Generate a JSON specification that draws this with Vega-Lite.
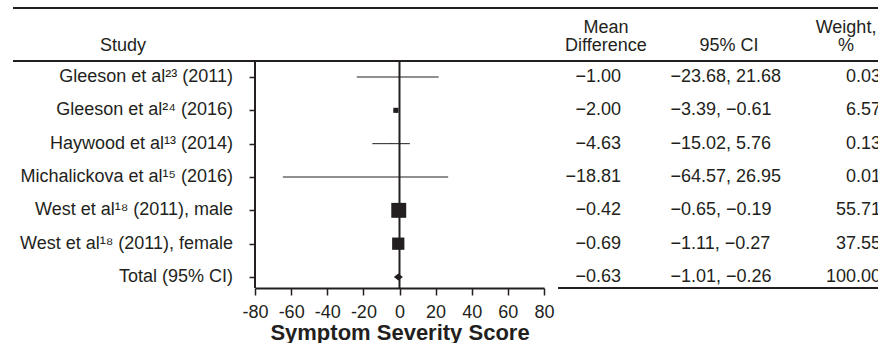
{
  "$schema": "https://vega.github.io/schema/vega-lite/v6.json",
  "padding": {"left": 12, "top": 7, "right": 0, "bottom": 0},
  "background": "white",
  "spacing": 0,
  "bounds": "flush",
  "datasets": {
    "rows": [
      {"row": 1, "study": "Gleeson et al²³ (2011)", "md": -1.00, "lo": -23.68, "hi": 21.68, "ci": "−23.68, 21.68", "w": 0.03, "kind": "study"},
      {"row": 2, "study": "Gleeson et al²⁴ (2016)", "md": -2.00, "lo": -3.39, "hi": -0.61, "ci": "−3.39, −0.61", "w": 6.57, "kind": "study"},
      {"row": 3, "study": "Haywood et al¹³ (2014)", "md": -4.63, "lo": -15.02, "hi": 5.76, "ci": "−15.02, 5.76", "w": 0.13, "kind": "study"},
      {"row": 4, "study": "Michalickova et al¹⁵ (2016)", "md": -18.81, "lo": -64.57, "hi": 26.95, "ci": "−64.57, 26.95", "w": 0.01, "kind": "study"},
      {"row": 5, "study": "West et al¹⁸ (2011), male", "md": -0.42, "lo": -0.65, "hi": -0.19, "ci": "−0.65, −0.19", "w": 55.71, "kind": "study"},
      {"row": 6, "study": "West et al¹⁸ (2011), female", "md": -0.69, "lo": -1.11, "hi": -0.27, "ci": "−1.11, −0.27", "w": 37.55, "kind": "study"},
      {"row": 7, "study": "Total (95% CI)", "md": -0.63, "lo": -1.01, "hi": -0.26, "ci": "−1.01, −0.26", "w": 100.00, "kind": "total"}
    ]
  },
  "hconcat": [
    {
      "width": 242,
      "height": 280,
      "layer": [
        {"data": {"values": [{}]}, "mark": {"type": "rule", "strokeWidth": 2},
         "encoding": {"y": {"datum": -1.07, "type": "quantitative", "scale": {"domain": [-1.07, 7.33], "reverse": true, "nice": false, "zero": false}, "axis": null}}},
        {"data": {"values": [{}]}, "mark": {"type": "rule", "strokeWidth": 2},
         "encoding": {"y": {"datum": 0.52, "type": "quantitative", "scale": {"domain": [-1.07, 7.33], "reverse": true, "nice": false, "zero": false}, "axis": null}}},
        {"data": {"values": [{}]}, "mark": {"type": "text", "dx": -11, "dy": 2, "baseline": "middle", "align": "center"},
         "encoding": {
           "x": {"datum": "Study", "type": "nominal", "scale": {"type": "band", "domain": ["Study"], "paddingInner": 0, "paddingOuter": 0}, "axis": null},
           "y": {"datum": 0, "type": "quantitative", "scale": {"domain": [-1.07, 7.33], "reverse": true, "nice": false, "zero": false}, "axis": null},
           "text": {"value": "Study"}}},
        {"data": {"name": "rows"}, "mark": {"type": "text", "align": "right", "dx": 99, "baseline": "middle"},
         "encoding": {
           "x": {"datum": "Study", "type": "nominal", "scale": {"type": "band", "domain": ["Study"], "paddingInner": 0, "paddingOuter": 0}, "axis": null},
           "y": {"field": "row", "type": "quantitative", "scale": {"domain": [-1.07, 7.33], "reverse": true, "nice": false, "zero": false}, "axis": null},
           "text": {"field": "study"}}}
      ]
    },
    {
      "width": 289,
      "height": 280,
      "layer": [
        {"data": {"values": [{}]}, "mark": {"type": "rule", "strokeWidth": 2},
         "encoding": {"y": {"datum": -1.07, "type": "quantitative", "scale": {"domain": [-1.07, 7.33], "reverse": true, "nice": false, "zero": false},
                 "axis": {"values": [1, 2, 3, 4, 5, 6, 7], "labels": false, "ticks": true, "tickSize": 6, "tickWidth": 1.5, "tickColor": "#231f20", "domain": false, "grid": false, "title": null}}}},
        {"data": {"values": [{}]}, "mark": {"type": "rule", "strokeWidth": 2},
         "encoding": {"y": {"datum": 0.52, "type": "quantitative", "scale": {"domain": [-1.07, 7.33], "reverse": true, "nice": false, "zero": false},
                 "axis": {"values": [1, 2, 3, 4, 5, 6, 7], "labels": false, "ticks": true, "tickSize": 6, "tickWidth": 1.5, "tickColor": "#231f20", "domain": false, "grid": false, "title": null}}}},
        {"data": {"values": [{}]}, "mark": {"type": "rule", "strokeWidth": 2},
         "encoding": {
           "x": {"datum": -80, "type": "quantitative", "scale": {"domain": [-80, 80], "nice": false, "zero": false},
                 "axis": {"values": [-80, -60, -40, -20, 0, 20, 40, 60, 80], "title": "Symptom Severity Score", "grid": false,
                          "domain": true, "domainWidth": 2, "domainColor": "#231f20", "ticks": true, "tickSize": 7, "tickWidth": 1.5,
                          "tickColor": "#231f20", "labelFontSize": 18, "labelColor": "#231f20", "labelPadding": 8,
                          "labelExpr": "'' + datum.value", "labelOverlap": false, "labelFlush": false, "labelBound": false,
                          "labelFont": "Liberation Sans", "titleFont": "Liberation Sans", "titleFontSize": 22, "titleFontWeight": "bold",
                          "titleColor": "#231f20", "titlePadding": 1}},
           "y": {"datum": 0.52, "type": "quantitative", "scale": {"domain": [-1.07, 7.33], "reverse": true, "nice": false, "zero": false},
                 "axis": {"values": [1, 2, 3, 4, 5, 6, 7], "labels": false, "ticks": true, "tickSize": 6, "tickWidth": 1.5, "tickColor": "#231f20", "domain": false, "grid": false, "title": null}},
           "y2": {"datum": 7.33}}},
        {"data": {"values": [{}]}, "mark": {"type": "rule", "strokeWidth": 2},
         "encoding": {
           "x": {"datum": 0, "type": "quantitative", "scale": {"domain": [-80, 80], "nice": false, "zero": false},
                 "axis": {"values": [-80, -60, -40, -20, 0, 20, 40, 60, 80], "title": "Symptom Severity Score", "grid": false,
                          "domain": true, "domainWidth": 2, "domainColor": "#231f20", "ticks": true, "tickSize": 7, "tickWidth": 1.5,
                          "tickColor": "#231f20", "labelFontSize": 18, "labelColor": "#231f20", "labelPadding": 8,
                          "labelExpr": "'' + datum.value", "labelOverlap": false, "labelFlush": false, "labelBound": false,
                          "labelFont": "Liberation Sans", "titleFont": "Liberation Sans", "titleFontSize": 22, "titleFontWeight": "bold",
                          "titleColor": "#231f20", "titlePadding": 1}},
           "y": {"datum": 0.52, "type": "quantitative", "scale": {"domain": [-1.07, 7.33], "reverse": true, "nice": false, "zero": false},
                 "axis": {"values": [1, 2, 3, 4, 5, 6, 7], "labels": false, "ticks": true, "tickSize": 6, "tickWidth": 1.5, "tickColor": "#231f20", "domain": false, "grid": false, "title": null}},
           "y2": {"datum": 7.33}}},
        {"data": {"name": "rows"}, "mark": {"type": "rule", "strokeWidth": 1, "color": "#231f20"},
         "encoding": {
           "x": {"field": "lo", "type": "quantitative", "scale": {"domain": [-80, 80], "nice": false, "zero": false},
                 "axis": {"values": [-80, -60, -40, -20, 0, 20, 40, 60, 80], "title": "Symptom Severity Score", "grid": false,
                          "domain": true, "domainWidth": 2, "domainColor": "#231f20", "ticks": true, "tickSize": 7, "tickWidth": 1.5,
                          "tickColor": "#231f20", "labelFontSize": 18, "labelColor": "#231f20", "labelPadding": 8,
                          "labelExpr": "'' + datum.value", "labelOverlap": false, "labelFlush": false, "labelBound": false,
                          "labelFont": "Liberation Sans", "titleFont": "Liberation Sans", "titleFontSize": 22, "titleFontWeight": "bold",
                          "titleColor": "#231f20", "titlePadding": 1}},
           "x2": {"field": "hi"},
           "y": {"field": "row", "type": "quantitative", "scale": {"domain": [-1.07, 7.33], "reverse": true, "nice": false, "zero": false},
                 "axis": {"values": [1, 2, 3, 4, 5, 6, 7], "labels": false, "ticks": true, "tickSize": 6, "tickWidth": 1.5, "tickColor": "#231f20", "domain": false, "grid": false, "title": null}}}},
        {"data": {"name": "rows"}, "transform": [{"filter": "datum.kind === 'study'"}],
         "mark": {"type": "point", "shape": "square", "filled": true, "opacity": 1, "color": "#231f20", "strokeWidth": 0},
         "encoding": {
           "x": {"field": "md", "type": "quantitative", "scale": {"domain": [-80, 80], "nice": false, "zero": false},
                 "axis": {"values": [-80, -60, -40, -20, 0, 20, 40, 60, 80], "title": "Symptom Severity Score", "grid": false,
                          "domain": true, "domainWidth": 2, "domainColor": "#231f20", "ticks": true, "tickSize": 7, "tickWidth": 1.5,
                          "tickColor": "#231f20", "labelFontSize": 18, "labelColor": "#231f20", "labelPadding": 8,
                          "labelExpr": "'' + datum.value", "labelOverlap": false, "labelFlush": false, "labelBound": false,
                          "labelFont": "Liberation Sans", "titleFont": "Liberation Sans", "titleFontSize": 22, "titleFontWeight": "bold",
                          "titleColor": "#231f20", "titlePadding": 1}},
           "y": {"field": "row", "type": "quantitative", "scale": {"domain": [-1.07, 7.33], "reverse": true, "nice": false, "zero": false},
                 "axis": {"values": [1, 2, 3, 4, 5, 6, 7], "labels": false, "ticks": true, "tickSize": 6, "tickWidth": 1.5, "tickColor": "#231f20", "domain": false, "grid": false, "title": null}},
           "size": {"field": "w", "type": "quantitative", "scale": {"type": "linear", "domain": [0, 100], "range": [0, 400]}, "legend": null}}},
        {"data": {"name": "rows"}, "transform": [{"filter": "datum.kind === 'total'"}],
         "mark": {"type": "point", "shape": "M-1,0L0,-0.8L1,0L0,0.8Z", "filled": true, "opacity": 1, "color": "#231f20", "strokeWidth": 0, "size": 81},
         "encoding": {
           "x": {"field": "md", "type": "quantitative", "scale": {"domain": [-80, 80], "nice": false, "zero": false},
                 "axis": {"values": [-80, -60, -40, -20, 0, 20, 40, 60, 80], "title": "Symptom Severity Score", "grid": false,
                          "domain": true, "domainWidth": 2, "domainColor": "#231f20", "ticks": true, "tickSize": 7, "tickWidth": 1.5,
                          "tickColor": "#231f20", "labelFontSize": 18, "labelColor": "#231f20", "labelPadding": 8,
                          "labelExpr": "'' + datum.value", "labelOverlap": false, "labelFlush": false, "labelBound": false,
                          "labelFont": "Liberation Sans", "titleFont": "Liberation Sans", "titleFontSize": 22, "titleFontWeight": "bold",
                          "titleColor": "#231f20", "titlePadding": 1}},
           "y": {"field": "row", "type": "quantitative", "scale": {"domain": [-1.07, 7.33], "reverse": true, "nice": false, "zero": false},
                 "axis": {"values": [1, 2, 3, 4, 5, 6, 7], "labels": false, "ticks": true, "tickSize": 6, "tickWidth": 1.5, "tickColor": "#231f20", "domain": false, "grid": false, "title": null}}}}
      ]
    },
    {
      "width": 337,
      "height": 280,
      "layer": [
        {"data": {"values": [{}]}, "mark": {"type": "rule", "strokeWidth": 2},
         "encoding": {"y": {"datum": -1.07, "type": "quantitative", "scale": {"domain": [-1.07, 7.33], "reverse": true, "nice": false, "zero": false}, "axis": null}}},
        {"data": {"values": [{}]}, "mark": {"type": "rule", "strokeWidth": 2},
         "encoding": {"y": {"datum": 0.52, "type": "quantitative", "scale": {"domain": [-1.07, 7.33], "reverse": true, "nice": false, "zero": false}, "axis": null}}},
        {"data": {"values": [{}]}, "mark": {"type": "rule", "strokeWidth": 2},
         "encoding": {
           "x": {"datum": "MD", "type": "nominal", "bandPosition": 0.125, "scale": {"type": "band", "domain": ["MD", "CI", "W"], "paddingInner": 0, "paddingOuter": 0}, "axis": null},
           "x2": {"datum": "W", "bandPosition": 1},
           "y": {"datum": 7.33, "type": "quantitative", "scale": {"domain": [-1.07, 7.33], "reverse": true, "nice": false, "zero": false}, "axis": null}}},
        {"data": {"values": [{}]}, "mark": {"type": "text", "align": "center", "baseline": "middle", "dx": 5.8, "dy": -16, "lineHeight": 18},
         "encoding": {
           "x": {"datum": "MD", "type": "nominal", "scale": {"type": "band", "domain": ["MD", "CI", "W"], "paddingInner": 0, "paddingOuter": 0}, "axis": null},
           "y": {"datum": 0, "type": "quantitative", "scale": {"domain": [-1.07, 7.33], "reverse": true, "nice": false, "zero": false}, "axis": null},
           "text": {"value": ["Mean", "Difference"]}}},
        {"data": {"values": [{}]}, "mark": {"type": "text", "align": "center", "baseline": "middle", "dx": 16.5, "dy": 2},
         "encoding": {
           "x": {"datum": "CI", "type": "nominal", "scale": {"type": "band", "domain": ["MD", "CI", "W"], "paddingInner": 0, "paddingOuter": 0}, "axis": null},
           "y": {"datum": 0, "type": "quantitative", "scale": {"domain": [-1.07, 7.33], "reverse": true, "nice": false, "zero": false}, "axis": null},
           "text": {"value": "95% CI"}}},
        {"data": {"values": [{}]}, "mark": {"type": "text", "align": "center", "baseline": "middle", "dx": 21.2, "dy": -16, "lineHeight": 18},
         "encoding": {
           "x": {"datum": "W", "type": "nominal", "scale": {"type": "band", "domain": ["MD", "CI", "W"], "paddingInner": 0, "paddingOuter": 0}, "axis": null},
           "y": {"datum": 0, "type": "quantitative", "scale": {"domain": [-1.07, 7.33], "reverse": true, "nice": false, "zero": false}, "axis": null},
           "text": {"value": ["Weight,", "%"]}}},
        {"data": {"name": "rows"}, "mark": {"type": "text", "align": "right", "baseline": "middle", "dx": 20.8},
         "encoding": {
           "x": {"datum": "MD", "type": "nominal", "scale": {"type": "band", "domain": ["MD", "CI", "W"], "paddingInner": 0, "paddingOuter": 0}, "axis": null},
           "y": {"field": "row", "type": "quantitative", "scale": {"domain": [-1.07, 7.33], "reverse": true, "nice": false, "zero": false}, "axis": null},
           "text": {"field": "md", "type": "quantitative", "format": ".2f"}}},
        {"data": {"name": "rows"}, "mark": {"type": "text", "align": "left", "baseline": "middle", "dx": -42},
         "encoding": {
           "x": {"datum": "CI", "type": "nominal", "scale": {"type": "band", "domain": ["MD", "CI", "W"], "paddingInner": 0, "paddingOuter": 0}, "axis": null},
           "y": {"field": "row", "type": "quantitative", "scale": {"domain": [-1.07, 7.33], "reverse": true, "nice": false, "zero": false}, "axis": null},
           "text": {"field": "ci"}}},
        {"data": {"name": "rows"}, "mark": {"type": "text", "align": "right", "baseline": "middle", "dx": 56.2},
         "encoding": {
           "x": {"datum": "W", "type": "nominal", "scale": {"type": "band", "domain": ["MD", "CI", "W"], "paddingInner": 0, "paddingOuter": 0}, "axis": null},
           "y": {"field": "row", "type": "quantitative", "scale": {"domain": [-1.07, 7.33], "reverse": true, "nice": false, "zero": false}, "axis": null},
           "text": {"field": "w", "type": "quantitative", "format": ".2f"}}}
      ]
    }
  ],
  "config": {
    "view": {"stroke": null},
    "font": "Liberation Sans",
    "text": {"font": "Liberation Sans", "fontSize": 18, "color": "#231f20"},
    "rule": {"color": "#231f20"}
  }
}
